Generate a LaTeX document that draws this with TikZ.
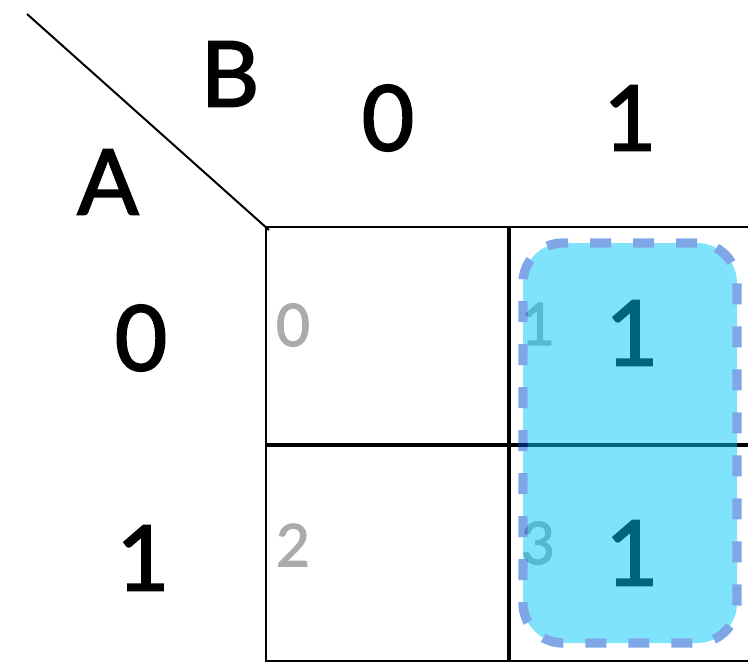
\documentclass[tikz,border=0pt]{standalone}
\usepackage{fontspec}
\setmainfont{Lato}
\newfontfamily\kfont{Lato}[FakeBold=2]
\usetikzlibrary{calc}

\definecolor{kfill}{RGB}{0,200,250}
\definecolor{kedge}{RGB}{0,80,210}
\tikzset{
  head/.style={font=\kfont\fontsize{68}{68}\selectfont, inner sep=0pt},
  idx/.style={font=\kfont\fontsize{44}{44}\selectfont, text=black!33, inner sep=0pt},
  thin/.style={line width=1.6pt},
  thick/.style={line width=3.4pt},
  loop/.style={draw=kedge, fill=kfill, line width=7pt,
    dash pattern=on 15.75pt off 16.5pt, rounded corners=30pt,
    minimum width=160.5pt, minimum height=300pt, inner sep=0pt}
}

\begin{document}
\begin{tikzpicture}[x=0.75pt, y=-0.75pt]
    \useasboundingbox (0,0) rectangle (748,662);
    % corner of the map
    \coordinate (O) at (266,227);
    \coordinate (S) at (27,14);
    \draw [line width=1.5pt] (S) -- ($(O)+(3,3)$);
    % variable names and headers
    \node[head] (B) at (230,74) {B};
    \node[head] (A) at (108,182) {A};
    \node[head] (b0) at (388,118) {0};
    \node[head] (b1) at (630,118) {1};
    \node[head] (a0) at (141,338) {0};
    \node[head] (a1) at (143,558) {1};
    % grid
    \draw [thin] (266,662) -- (O) -- (760,227);
    \draw [thin] (266,661) -- (760,661);
    \draw [thick] (509,227) -- (509,662);
    \draw [thick] (266,445) -- (760,445);
    % cell numbers and values
    \node[idx] (m0) at (293,325) {0};
    \node[idx] (m1) at (538,324) {1};
    \node[idx] (m2) at (293,545) {2};
    \node[idx] (m3) at (538,543) {3};
    \node[head] (v1) at (632,333) {1};
    \node[head] (v3) at (632,553) {1};
    % the group of ones
    \begin{scope}[transparency group, opacity=0.5]
        \node[loop] (g) at (630,443) {};
    \end{scope}
\end{tikzpicture}
\end{document}
